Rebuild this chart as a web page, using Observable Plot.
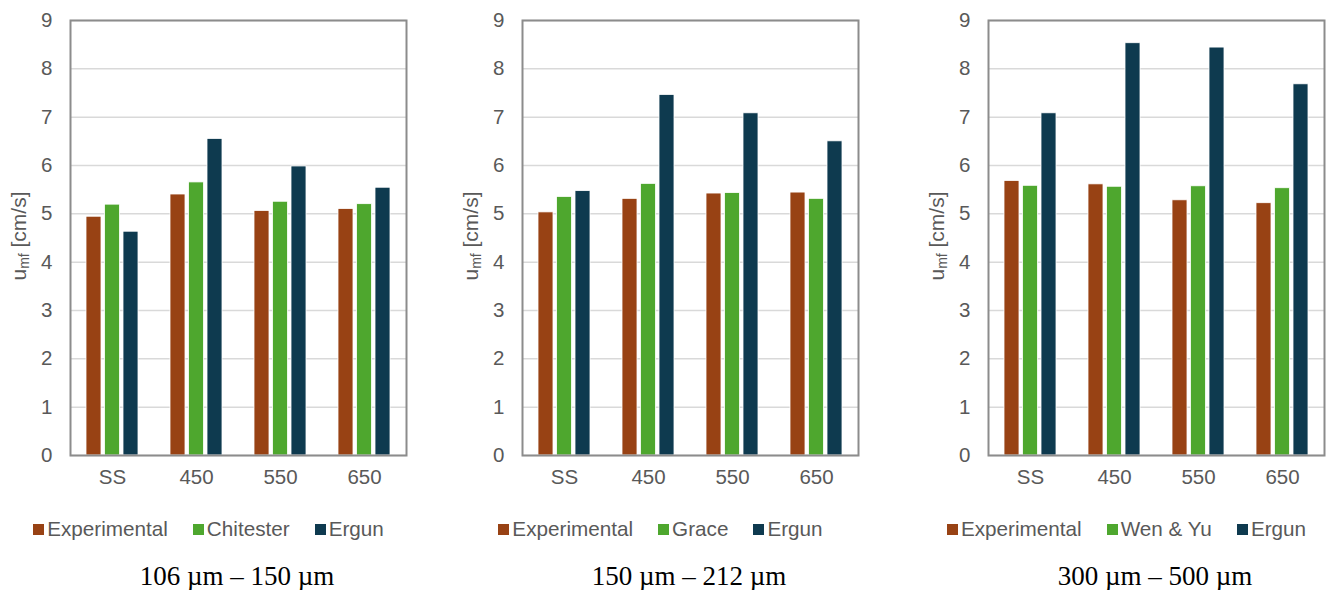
<!DOCTYPE html>
<html>
<head>
<meta charset="utf-8">
<script src="https://cdn.jsdelivr.net/npm/d3@7"></script>
<script src="https://cdn.jsdelivr.net/npm/@observablehq/plot@0.6"></script>
<style>
  html, body { margin: 0; padding: 0; background: #fff; overflow: hidden; }
  #root { position: relative; width: 1326px; height: 590px; }
  .panel { position: absolute; top: 0; width: 420px; height: 590px; }
  .legend { position: absolute; left: 0; width: 417px; top: 518px; display: flex; justify-content: center;
            font-family: "Liberation Sans", Arial, sans-serif; font-size: 20.7px; color: #595959; line-height: 22px; }
  .legend .item { display: flex; align-items: center; margin: 0 12.5px; white-space: nowrap; }
  .legend .sw { width: 11px; height: 11px; margin-right: 3px; display: inline-block; }
  .caption { position: absolute; top: 561px; width: 300px; text-align: center;
             font-family: "Liberation Serif", "Times New Roman", serif; font-size: 27px; color: #000; line-height: 30px; }
</style>
</head>
<body>
<div id="root"></div>
<script>
const categories = ["SS", "450", "550", "650"];
const seriesNames = [
  ["Experimental", "Chitester", "Ergun"],
  ["Experimental", "Grace", "Ergun"],
  ["Experimental", "Wen & Yu", "Ergun"]
];
const panelTitles = ["106 µm – 150 µm", "150 µm – 212 µm", "300 µm – 500 µm"];
const experimentalValues = [
  [4.94, 5.40, 5.06, 5.10],
  [5.03, 5.31, 5.42, 5.44],
  [5.68, 5.61, 5.28, 5.22]
];
const correlationValues = [
  [5.19, 5.65, 5.25, 5.20],
  [5.35, 5.62, 5.43, 5.31],
  [5.58, 5.56, 5.57, 5.53]
];
const ergunValues = [
  [4.63, 6.55, 5.98, 5.54],
  [5.47, 7.46, 7.08, 6.50],
  [7.08, 8.53, 8.44, 7.68]
];
const yTicks = [0, 1, 2, 3, 4, 5, 6, 7, 8, 9];
const colors = ["#984214", "#4ea72e", "#0e3a4f"];

const panelLefts = [0, 452, 918];
const root = document.getElementById("root");

for (let p = 0; p < 3; p++) {
  const names = seriesNames[p];
  const valueSets = [experimentalValues[p], correlationValues[p], ergunValues[p]];
  const data = [];
  valueSets.forEach((vals, s) => {
    categories.forEach((c, i) => data.push({category: c, series: names[s], sIndex: s, value: vals[i]}));
  });

  const barW = 15, step = 18.5;
  const bandW = 336 / categories.length;
  const barMarks = [0, 1, 2].map(s => Plot.barY(data.filter(d => d.sIndex === s), {
    x: "category", y: "value",
    fill: colors[s],
    stroke: "white", strokeWidth: 0.8,
    insetLeft: (bandW - barW) / 2, insetRight: (bandW - barW) / 2,
    dx: (s - 1) * step
  }));

  const chart = Plot.plot({
    width: 408,
    height: 495,
    marginLeft: 70,
    marginRight: 2,
    marginTop: 20,
    marginBottom: 40,
    style: {fontFamily: "'Liberation Sans', Arial, sans-serif", fontSize: "20.5px", color: "#595959", background: "white"},
    x: {domain: categories, padding: 0, label: null, tickSize: 0, tickPadding: 14},
    y: {domain: [0, 9], ticks: yTicks, label: null, tickSize: 0, tickPadding: 18, tickFormat: d3.format("d")},
    marks: [
      Plot.gridY(yTicks, {stroke: "#d9d9d9", strokeOpacity: 1, strokeWidth: 1.5}),
      ...barMarks,
      Plot.frame({stroke: "#8c8c8c", strokeWidth: 2})
    ]
  });

  const panel = document.createElement("div");
  panel.className = "panel";
  panel.style.left = panelLefts[p] + "px";
  panel.appendChild(chart);

  // y-axis label with subscript
  const svg = d3.select(chart);
  const lbl = svg.append("text")
    .attr("transform", "translate(20,236) rotate(-90)")
    .attr("text-anchor", "middle")
    .attr("dominant-baseline", "middle")
    .attr("fill", "#595959")
    .attr("font-size", 21);
  lbl.append("tspan").text("u");
  lbl.append("tspan").attr("font-size", 14).attr("dy", 5).text("mf");
  lbl.append("tspan").attr("dy", -5).text(" [cm/s]");

  const legend = document.createElement("div");
  legend.className = "legend";
  names.forEach((n, s) => {
    const it = document.createElement("span");
    it.className = "item";
    const sw = document.createElement("span");
    sw.className = "sw";
    sw.style.background = colors[s];
    it.appendChild(sw);
    it.appendChild(document.createTextNode(n));
    legend.appendChild(it);
  });
  panel.appendChild(legend);

  const cap = document.createElement("div");
  cap.className = "caption";
  cap.style.left = (237 - 150) + "px";
  cap.textContent = panelTitles[p];
  panel.appendChild(cap);

  root.appendChild(panel);
}
</script>
</body>
</html>
